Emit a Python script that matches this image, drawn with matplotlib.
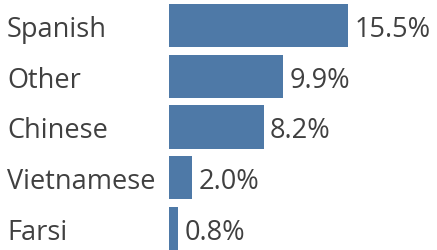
import matplotlib
matplotlib.use("Agg")
import matplotlib.pyplot as plt

categories = ["Spanish", "Other", "Chinese", "Vietnamese", "Farsi"]
values = [15.5, 9.9, 8.2, 2.0, 0.8]
value_labels = ["15.5%", "9.9%", "8.2%", "2.0%", "0.8%"]

W, H = 437, 251
fig = plt.figure(figsize=(W / 100, H / 100), dpi=100)
ax = fig.add_axes([169 / W, 0, 1 - 169 / W, 1])

color = "#4E79A7"
txt = "#404040"
fs = 19.5
font = "Open Sans"
wt = "normal"

y = list(range(len(categories)))
ax.barh(y, values, height=0.85, color=color)
ax.set_xlim(0, (W - 169) / 11.55)
ax.set_ylim(4.424, -0.522)

for yi, v, lab in zip(y, values, value_labels):
    ax.annotate(lab, (v, yi), xytext=(4.5, 0), textcoords="offset points",
                ha="left", va="center_baseline", fontsize=fs, color=txt,
                family=font, weight=wt)

ax.set_yticks(y)
ax.set_yticklabels(categories, fontsize=fs, color=txt, family=font,
                   weight=wt, ha="left", va="center_baseline")
ax.tick_params(axis="y", length=0, pad=(169 - 7) * 0.72)
ax.set_xticks([])
for s in ax.spines.values():
    s.set_visible(False)

fig.savefig("out.png", dpi=100)
